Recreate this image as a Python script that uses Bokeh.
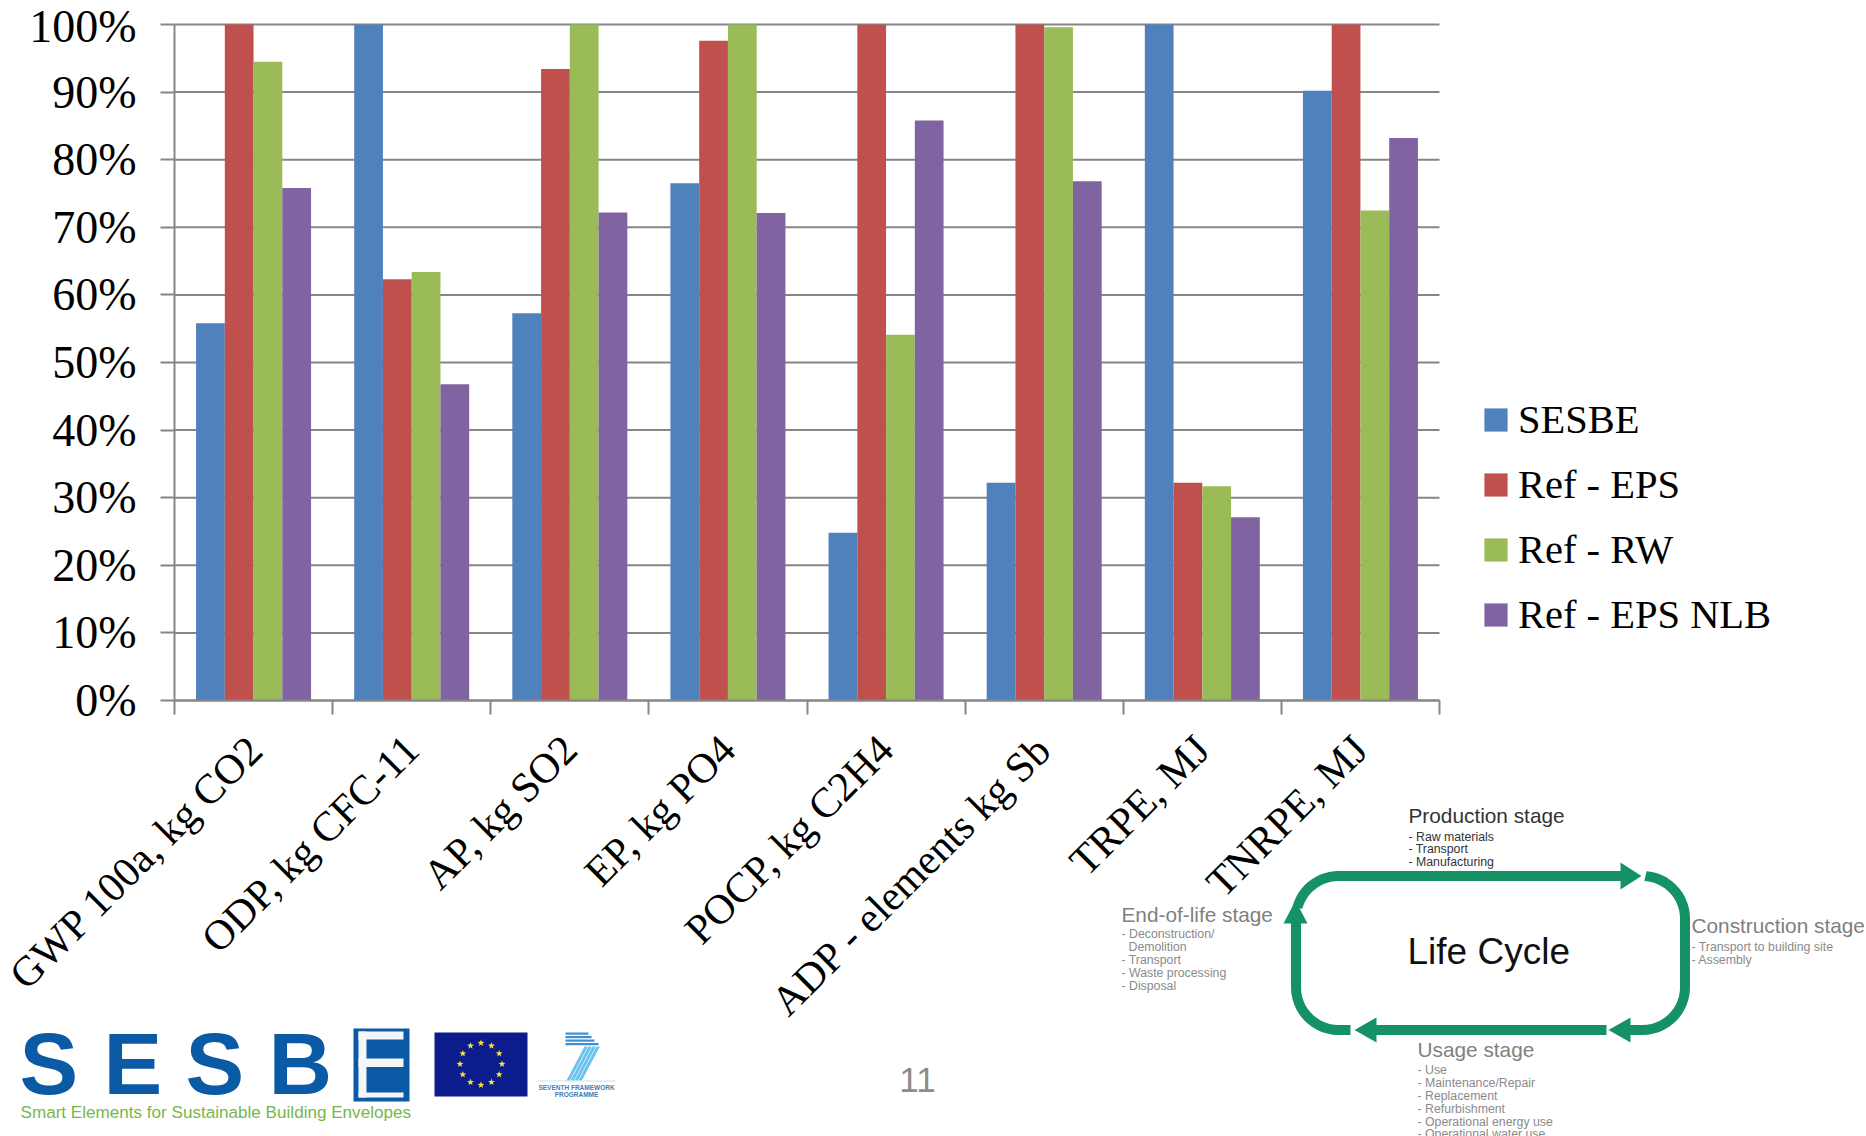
import math
import numpy as np
from bokeh.embed import file_html
from bokeh.models import (ColumnDataSource, FixedTicker, Label, Legend, LegendItem,
                          PolyAnnotation, Range1d)
from bokeh.plotting import figure
from bokeh.resources import INLINE

W, H = 1866, 1136
AXIS_L, AXIS_T, AXIS_R, AXIS_B = 174, 24, 1439, 700

categories = ["GWP 100a, kg CO2", "ODP, kg CFC-11", "AP, kg SO2", "EP, kg PO4",
              "POCP, kg C2H4", "ADP - elements kg Sb", "TRPE, MJ", "TNRPE, MJ"]
sesbe = [55.8, 100, 57.3, 76.5, 24.8, 32.2, 100, 90.2]
ref_eps = [100, 62.3, 93.4, 97.6, 100, 100, 32.2, 100]
ref_rw = [94.5, 63.4, 100, 100, 54.1, 99.6, 31.7, 72.5]
ref_eps_nlb = [75.8, 46.8, 72.2, 72.1, 85.8, 76.8, 27.1, 83.2]
series_names = ["SESBE", "Ref - EPS", "Ref - RW", "Ref - EPS NLB"]
series_colors = ["#4F81BD", "#C0504D", "#9BBB59", "#8064A2"]
y_ticks = list(range(0, 101, 10))

SERIF = "Liberation Serif"
SANS = "Liberation Sans"
AXIS_GREY = "#868686"

# The frame fills the page, so the slide's diagram and logos can share it with the chart.
x_px = (AXIS_R - AXIS_L) / 8
y_px = (AXIS_B - AXIS_T) / 100
p = figure(width=W, height=H, output_backend="svg", toolbar_location=None,
           x_range=Range1d(-AXIS_L / x_px, 8 + (W - AXIS_R) / x_px),
           y_range=Range1d(-(H - AXIS_B) / y_px, 100 + AXIS_T / y_px),
           min_border=0, outline_line_color=None, background_fill_color="white")

p.xgrid.visible = False
p.ygrid.visible = False
p.segment(x0=[0] * len(y_ticks), x1=[8] * len(y_ticks), y0=y_ticks, y1=y_ticks,
          line_color=AXIS_GREY, line_width=2, level="underlay")

# Four bars per category, gap of one and a half bar widths.
bar_w = 1 / 5.5
renderers = []
for i, (vals, color) in enumerate(zip([sesbe, ref_eps, ref_rw, ref_eps_nlb], series_colors)):
    xs = [c + 0.5 + (i - 1.5) * bar_w for c in range(len(categories))]
    src = ColumnDataSource(dict(x=xs, top=vals))
    renderers.append(p.vbar(x="x", top="top", bottom=0, width=bar_w, source=src,
                            fill_color=color, line_color=None, level="glyph"))

ax = p.xaxis[0]
ax.fixed_location = 0
ax.bounds = (0, 8)
ax.ticker = FixedTicker(ticks=[c + 0.5 for c in range(8)], minor_ticks=list(range(9)))
ax.major_label_overrides = {c + 0.5: name for c, name in enumerate(categories)}
ax.major_label_orientation = math.pi / 4
ax.major_label_text_font = SERIF
ax.major_label_text_font_size = "42px"
ax.major_label_text_color = "black"
ax.major_label_standoff = 28
ax.major_tick_in = 0
ax.major_tick_out = 0
ax.minor_tick_in = 0
ax.minor_tick_out = 14
ax.minor_tick_line_color = AXIS_GREY
ax.minor_tick_line_width = 2
ax.axis_line_color = AXIS_GREY
ax.axis_line_width = 2

ay = p.yaxis[0]
ay.fixed_location = 0
ay.bounds = (0, 100)
ay.ticker = FixedTicker(ticks=y_ticks, minor_ticks=[])
ay.major_label_overrides = {v: f"{v}%" for v in y_ticks}
ay.major_label_text_font = SERIF
ay.major_label_text_font_size = "46px"
ay.major_label_text_color = "black"
ay.major_label_standoff = 24
ay.major_tick_in = 0
ay.major_tick_out = 14
ay.major_tick_line_color = AXIS_GREY
ay.major_tick_line_width = 2
ay.axis_line_color = AXIS_GREY
ay.axis_line_width = 2

legend = Legend(items=[LegendItem(label=n, renderers=[r]) for n, r in zip(series_names, renderers)],
                location=(1481, H - 638),
                glyph_width=29, glyph_height=29, spacing=17, padding=10,
                label_standoff=8, label_text_font=SERIF, label_text_font_size="40.5px",
                label_height=48, label_text_color="black",
                border_line_color=None, background_fill_alpha=0, margin=0)
p.add_layout(legend, "center")


# Page furniture is placed in window pixels, top-left origin; screen units run up from the bottom edge.
def put_text(text, x, y, size, color="black", font=SANS, align="left", style="normal"):
    p.add_layout(Label(x=x, y=H - (y - 0.37 * size), x_units="screen", y_units="screen", text=text,
                       text_font=font, text_font_size=f"{size}px", text_color=color,
                       text_baseline="alphabetic", text_align=align, text_font_style=style))


def put_poly(xs, ys, color):
    p.add_layout(PolyAnnotation(xs=list(xs), ys=[H - y for y in ys],
                                xs_units="screen", ys_units="screen",
                                fill_color=color, fill_alpha=1, line_color=None, level="overlay"))


GREEN = "#149266"


def band(points, width):
    """Polygon of constant width along a polyline."""
    pts = np.array(points, dtype=float)
    d = np.gradient(pts, axis=0)
    d /= np.linalg.norm(d, axis=1, keepdims=True)
    n = np.stack([-d[:, 1], d[:, 0]], axis=1)
    a = pts + n * width / 2
    b = pts - n * width / 2
    poly = np.concatenate([a, b[::-1]])
    put_poly(poly[:, 0].tolist(), poly[:, 1].tolist(), GREEN)


def corner(cx, cy, r, a0, a1, n=14):
    return [(cx + r * math.cos(math.radians(t)), cy + r * math.sin(math.radians(t)))
            for t in np.linspace(a0, a1, n)]


# Life-cycle loop: four arrows with rounded corners.
band(corner(1338, 918, 42.5, 195, 270) + [(1338.5, 875.5), (1625, 875.5)], 10)
put_poly([1620, 1641, 1620], [862, 875.5, 889], GREEN)
band([(1645, 875.5)] + corner(1642, 918, 42.5, 275, 360) + corner(1642, 987, 42.5, 0, 90)
     + [(1641.5, 1029.5), (1625, 1029.5)], 10)
put_poly([1630, 1608, 1630], [1017, 1029.5, 1042], GREEN)
band([(1606, 1029.5), (1372, 1029.5)], 10)
put_poly([1376, 1354, 1376], [1017, 1029.5, 1042], GREEN)
band([(1350, 1029.5), (1338.5, 1029.5)] + corner(1338, 987, 42.5, 90, 180) + [(1295.5, 986.5), (1295.5, 920)], 10)
put_poly([1283, 1295, 1307], [923, 900, 923], GREEN)

put_text("Life Cycle", 1407, 965, 37, "#111111")
put_text("Production stage", 1408, 823, 20.8, "#333333")
for t, y in zip(["- Raw materials", "- Transport", "- Manufacturing"], [841, 853.5, 866]):
    put_text(t, 1408, y, 12.3, "#333333")
put_text("End-of-life stage", 1121, 922, 20.8, "#808080")
for t, x, y in zip(["- Deconstruction/", "Demolition", "- Transport", "- Waste processing", "- Disposal"],
                   [1121, 1128, 1121, 1121, 1121], [938, 951, 964, 977, 990]):
    put_text(t, x, y, 12.3, "#8a8a8a")
put_text("Construction stage", 1691, 933, 20.8, "#808080")
for t, y in zip(["- Transport to building site", "- Assembly"], [951, 964]):
    put_text(t, 1691, y, 12.3, "#8a8a8a")
put_text("Usage stage", 1417, 1057, 20.8, "#808080")
for t, y in zip(["- Use", "- Maintenance/Repair", "- Replacement", "- Refurbishment",
                 "- Operational energy use", "- Operational water use"],
                [1074, 1087, 1100, 1113, 1126, 1138]):
    put_text(t, 1417, y, 12.3, "#8a8a8a")

# Project logo.
LOGO_BLUE = "#0B5AA6"
for ch, x in zip("SESB", [19, 103, 185, 268]):
    put_text(ch, x, 1096, 88, LOGO_BLUE, style="bold")
put_poly([353, 409, 409, 353], [1028, 1028, 1101, 1101], LOGO_BLUE)
for x0, x1, y0, y1 in [(358, 366, 1031, 1097), (358, 403, 1031, 1039),
                       (358, 403, 1058, 1066.5), (358, 403, 1092, 1097)]:
    put_poly([x0, x1, x1, x0], [y0, y0, y1, y1], "#F4F6F9")
put_text("Smart Elements for Sustainable Building Envelopes", 20, 1118, 17.1, "#77B64B")

# EU flag with its ring of twelve stars.
put_poly([434, 527, 527, 434], [1032, 1032, 1096, 1096], "#0C1C8C")
for k in range(12):
    a = math.radians(30 * k)
    cx, cy = 480.5 + 21 * math.cos(a), 1063.5 + 21 * math.sin(a)
    sx, sy = [], []
    for j in range(10):
        r = 3.6 if j % 2 == 0 else 1.5
        t = math.radians(-90 + 36 * j)
        sx.append(cx + r * math.cos(t))
        sy.append(cy + r * math.sin(t))
    put_poly(sx, sy, "#F2E23A")

# Seventh Framework mark: dark bars on top, lighter slanted stripes below.
for y0, x0, x1 in [(1032, 565, 588), (1035.5, 565, 591), (1039, 565, 594), (1042.5, 565, 598)]:
    put_poly([x0, x1, x1, x0], [y0, y0, y0 + 2.2, y0 + 2.2], "#3C8FD0")
for top_x, bot_x, w in [(584, 566, 3.4), (588, 570, 3.4), (592, 574, 3.4), (596, 578, 3.4)]:
    put_poly([top_x, top_x + w, bot_x + w, bot_x], [1046, 1046, 1080, 1080], "#6CC3EE")
put_poly([537, 615, 615, 537], [1080, 1080, 1081, 1081], "#BFE3F5")
put_text("SEVENTH FRAMEWORK", 576, 1089, 6.5, "#3F7FB8", align="center", style="bold")
put_text("PROGRAMME", 576, 1096, 6.5, "#3F7FB8", align="center", style="bold")

put_text("11", 917, 1092, 35, "#8C8C8C", align="center")

open("out.html", "w").write(file_html(p, INLINE))
